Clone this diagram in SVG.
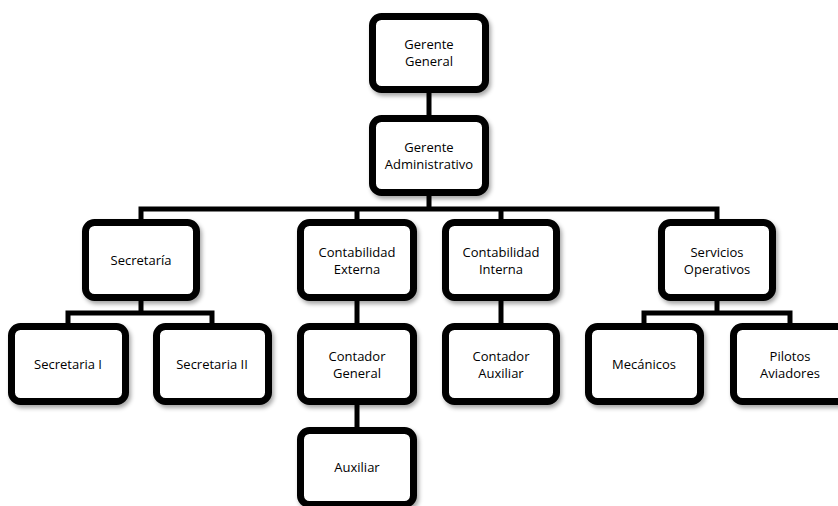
<svg xmlns="http://www.w3.org/2000/svg" width="838" height="506" viewBox="0 0 838 506">
<style>
.box{fill:#fff;stroke:#000;stroke-width:7;filter:url(#sh)}
.c{fill:none;stroke:#000;stroke-width:5;stroke-linejoin:miter}
text{font-family:"Open Sans","Noto Sans","Liberation Sans",sans-serif;font-size:13px;fill:#000;text-anchor:middle}
</style>
<defs>
<filter id="sh" x="-20%" y="-20%" width="140%" height="140%">
<feDropShadow dx="2" dy="3" stdDeviation="2" flood-color="#000" flood-opacity="0.35"/>
</filter>
</defs>
<g id="connectors">
<path class="c" d="M429,93V115"/>
<path class="c" d="M429,196V209"/>
<path class="c" d="M141,219V209H717V219"/>
<path class="c" d="M357,209V219"/>
<path class="c" d="M501,209V219"/>
<path class="c" d="M141,301V313"/>
<path class="c" d="M68,323V313H212V323"/>
<path class="c" d="M357,301V323"/>
<path class="c" d="M357,405V427"/>
<path class="c" d="M501,301V323"/>
<path class="c" d="M717,301V313"/>
<path class="c" d="M644,323V313H790V323"/>
</g>
<g id="gerente-general"><rect class="box" x="372.5" y="16.5" width="113" height="73" rx="9"/><text x="429" y="49">Gerente</text><text x="429" y="66">General</text></g>
<g id="gerente-administrativo"><rect class="box" x="372.5" y="118.5" width="113" height="74" rx="9"/><text x="429" y="152">Gerente</text><text x="429" y="169">Administrativo</text></g>
<g id="secretaria"><rect class="box" x="85.5" y="222.5" width="111" height="75" rx="9"/><text x="141" y="265">Secretaría</text></g>
<g id="contabilidad-externa"><rect class="box" x="300.5" y="222.5" width="113" height="75" rx="9"/><text x="357" y="257">Contabilidad</text><text x="357" y="274">Externa</text></g>
<g id="contabilidad-interna"><rect class="box" x="445.5" y="222.5" width="111" height="75" rx="9"/><text x="501" y="257">Contabilidad</text><text x="501" y="274">Interna</text></g>
<g id="servicios-operativos"><rect class="box" x="661.5" y="222.5" width="111" height="75" rx="9"/><text x="717" y="257">Servicios</text><text x="717" y="274">Operativos</text></g>
<g id="secretaria-i"><rect class="box" x="11.5" y="326.5" width="114" height="75" rx="9"/><text x="68" y="369">Secretaria I</text></g>
<g id="secretaria-ii"><rect class="box" x="156.5" y="326.5" width="112" height="75" rx="9"/><text x="212" y="369">Secretaria II</text></g>
<g id="contador-general"><rect class="box" x="300.5" y="326.5" width="113" height="75" rx="9"/><text x="357" y="361">Contador</text><text x="357" y="378">General</text></g>
<g id="contador-auxiliar"><rect class="box" x="445.5" y="326.5" width="111" height="75" rx="9"/><text x="501" y="361">Contador</text><text x="501" y="378">Auxiliar</text></g>
<g id="mecanicos"><rect class="box" x="588.5" y="326.5" width="112" height="75" rx="9"/><text x="644" y="369">Mecánicos</text></g>
<g id="pilotos-aviadores"><rect class="box" x="733.5" y="326.5" width="113" height="75" rx="9"/><text x="790" y="361">Pilotos</text><text x="790" y="378">Aviadores</text></g>
<g id="auxiliar"><rect class="box" x="300.5" y="430.5" width="113" height="74" rx="9"/><text x="357" y="472">Auxiliar</text></g>
</svg>
